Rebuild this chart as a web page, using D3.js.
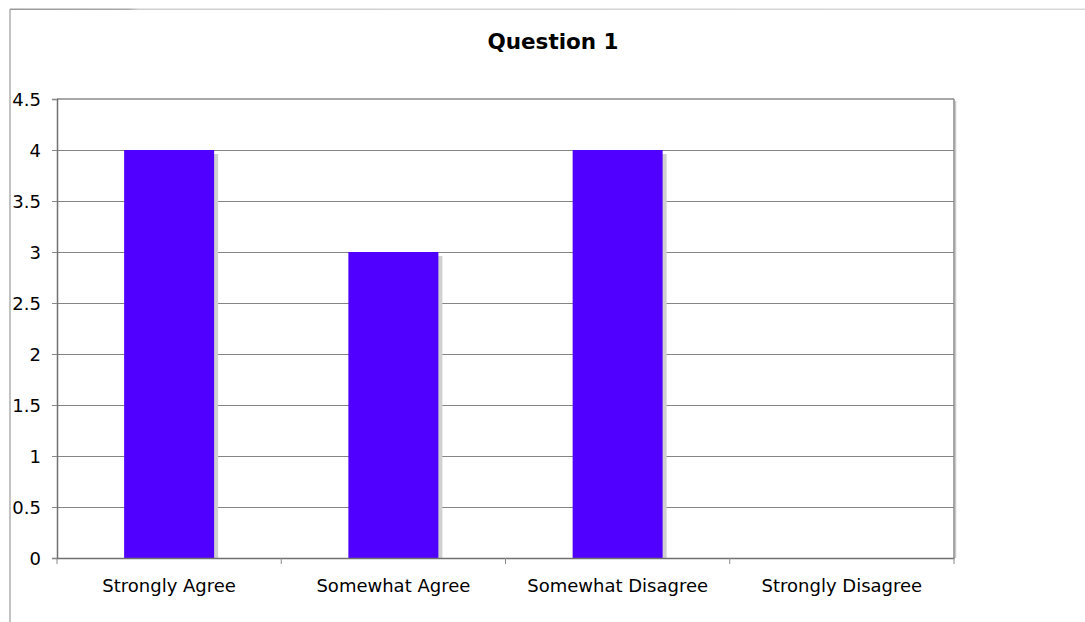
<!DOCTYPE html>
<html><head><meta charset="utf-8">
<script src="https://cdn.jsdelivr.net/npm/d3@7"></script>
<style>body{margin:0;background:#fff;}svg{display:block;}</style>
</head><body>
<svg id="c" width="1085" height="622"></svg>
<script>
const title = "Question 1";
const categories = ["Strongly Agree", "Somewhat Agree", "Somewhat Disagree", "Strongly Disagree"];
const values = [4, 3, 4, 0];
const yTicks = [0, 0.5, 1, 1.5, 2, 2.5, 3, 3.5, 4, 4.5];
const yTickLabels = ["0", "0.5", "1", "1.5", "2", "2.5", "3", "3.5", "4", "4.5"];

const svg = d3.select("#c");
const font = "'DejaVu Sans', Verdana, sans-serif";
const L = 57, R = 954, T = 99, B = 558;

// outer frame
const grad = svg.append("defs").append("linearGradient").attr("id","tg");
grad.append("stop").attr("offset","0").attr("stop-color","#9a9a9a");
grad.append("stop").attr("offset","0.11").attr("stop-color","#a8a8a8");
grad.append("stop").attr("offset","0.12").attr("stop-color","#cfcfcf");
grad.append("stop").attr("offset","1").attr("stop-color","#d8d8d8");
svg.append("rect").attr("x",10).attr("y",8.5).attr("width",1075).attr("height",1.5).attr("fill","url(#tg)");
svg.append("line").attr("x1",10).attr("x2",10).attr("y1",9).attr("y2",622).attr("stroke","#9a9a9a").attr("stroke-width",1.2);

svg.append("text").attr("x",553).attr("y",49).attr("text-anchor","middle")
  .attr("font-family",font).attr("font-weight","bold").attr("font-size",21.5).text(title);

const x = d3.scaleBand().domain(categories).range([L, R]).paddingInner(0).paddingOuter(0);
const y = d3.scaleLinear().domain([0, 4.5]).range([B, T]);

// gridlines
svg.append("g").selectAll("line").data(yTicks.filter(d => d > 0 && d < 4.5)).join("line")
  .attr("x1", L).attr("x2", R).attr("y1", d => y(d) + 0.5).attr("y2", d => y(d) + 0.5)
  .attr("stroke","#858585").attr("stroke-width",1);

// plot border top/right
svg.append("line").attr("x1",L).attr("x2",R).attr("y1",T).attr("y2",T).attr("stroke","#8a8a8a").attr("stroke-width",1.5);
svg.append("line").attr("x1",R+1.5).attr("x2",R+1.5).attr("y1",T+2).attr("y2",B).attr("stroke","#c8c8c8").attr("stroke-width",1.5);
svg.append("line").attr("x1",R).attr("x2",R).attr("y1",T).attr("y2",B).attr("stroke","#8a8a8a").attr("stroke-width",1.5);

// bars
const bw = 90;
const cx = d => x(d) + x.bandwidth()/2;
const data = categories.map((c,i) => ({c, v: values[i]}));
svg.append("g").selectAll("rect").data(data.filter(d=>d.v>0)).join("rect")
  .attr("x", d => cx(d.c) - bw/2 + 4).attr("y", d => y(d.v) + 4)
  .attr("width", bw).attr("height", d => B - y(d.v) - 4).attr("fill","#d0d0d0");
svg.append("g").selectAll("rect").data(data.filter(d=>d.v>0)).join("rect")
  .attr("x", d => cx(d.c) - bw/2).attr("y", d => y(d.v))
  .attr("width", bw).attr("height", d => B - y(d.v)).attr("fill","#5000ff");

// y axis
const yAxis = d3.axisLeft(y).tickValues(yTicks).tickFormat((d,i) => yTickLabels[i]).tickSize(5).tickPadding(11);
const gy = svg.append("g").attr("transform",`translate(${L},0)`).call(yAxis);
gy.attr("font-size",18).attr("font-family",font);
gy.select(".domain").attr("stroke","#707070").attr("stroke-width",1.5);
gy.selectAll(".tick line").attr("stroke","#8a8a8a");
gy.selectAll("text").attr("font-family",font).attr("font-size",18).attr("fill","#000").attr("dy","0.36em");

// x axis
const xAxis = d3.axisBottom(x).tickSize(0).tickPadding(21);
const gx = svg.append("g").attr("transform",`translate(0,${B})`).call(xAxis);
gx.attr("font-size",18).attr("font-family",font);
gx.select(".domain").attr("stroke","#707070").attr("stroke-width",1.5);
gx.selectAll("text").attr("font-family",font).attr("font-size",18).attr("fill","#000");
// category boundary ticks
const bounds = categories.map(c => x(c)).concat([R]);
svg.append("g").selectAll("line").data(bounds).join("line")
  .attr("x1", d => d).attr("x2", d => d).attr("y1", B).attr("y2", B + 6)
  .attr("stroke","#8a8a8a").attr("stroke-width",1);
</script>
</body></html>
